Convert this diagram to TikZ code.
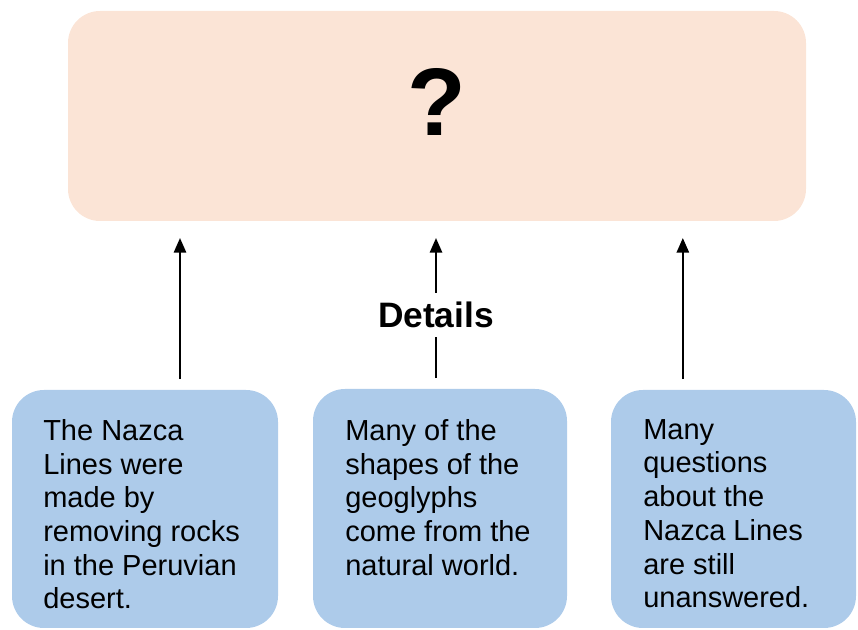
\documentclass[tikz,border=0pt]{standalone}
\usepackage{fontspec}
\setmainfont{Liberation Sans}
\usetikzlibrary{positioning, arrows.meta}
\definecolor{peach}{RGB}{251,228,214}
\definecolor{skyBlue}{RGB}{173,203,234}
\tikzset{
	peachColor/.style={
		fill=peach,
		draw=none,
		text = black
	},
	blueColor/.style={
		fill=skyBlue,
		draw=none,
		text = black
	},
}
\begin{document}
\begin{tikzpicture}[x=0.75pt, y=-0.75pt
    , box/.style={rounded corners=24pt, inner sep=0pt}
    , txt/.style={anchor=north west, align=left, inner sep=0pt, font=\fontsize{21.75pt}{25.3pt}\selectfont}
    , arr/.style={line width=2pt, -{Triangle[length=11pt, width=9pt]}, shorten <=8pt, shorten >=12.5pt}
    ]
\useasboundingbox (0,0) rectangle (858,630);
\node[box, peachColor, minimum width=553.5pt, minimum height=157.5pt] (goal) at (437,116) {};
\node[inner sep=0pt, font=\fontsize{72pt}{72pt}\selectfont\bfseries] (qmark) at (437,102) {?};
% details
\node[box, blueColor, minimum width=199.5pt, minimum height=178.5pt] (d1) at (145,509) {};
\node[box, blueColor, minimum width=190.5pt, minimum height=179.25pt] (d2) at (440,508.5) {};
\node[box, blueColor, minimum width=183.75pt, minimum height=178.5pt] (d3) at (733.5,509) {};
\node[txt] (t1) at (43,419) {The Nazca\\Lines were\\made by\\removing rocks\\in the Peruvian\\desert.};
\node[txt] (t2) at (345,419) {Many of the\\shapes of the\\geoglyphs\\come from the\\natural world.};
\node[txt] (t3) at (643,419) {Many\\questions\\about the\\Nazca Lines\\are still\\unanswered.};
% arrows
\draw[arr] ([xshift=26.25pt]d1.north) -- ([xshift=26.25pt]d1.north |- goal.south);
\draw[arr] ([xshift=-3pt]d2.north) -- node[pos=0.44, fill=white, inner sep=6.5pt, font=\fontsize{26.5pt}{30pt}\selectfont\bfseries] (lbl) {Details} ([xshift=-3pt]d2.north |- goal.south);
\draw[arr] ([xshift=-38pt]d3.north) -- ([xshift=-38pt]d3.north |- goal.south);
\end{tikzpicture}
\end{document}
